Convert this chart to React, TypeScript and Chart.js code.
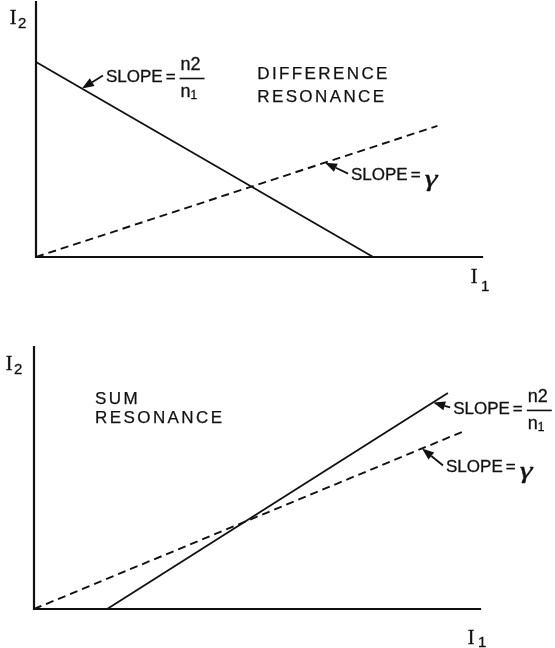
import { useEffect, useRef } from "react";
import { Chart, registerables } from "chart.js";

Chart.register(...registerables);

// Both axes run over 0..100 in arbitrary intensity units.
const AXIS_MIN = 0;
const AXIS_MAX = 100;

// Difference resonance: resonance line of slope -n2/n1 and the line I2 = γ·I1
const diffResonanceI1 = [0, 75.6];
const diffResonanceI2 = [76.5, 0];
const diffGammaI1 = [0, 90];
const diffGammaI2 = [0, 51.4];

// Sum resonance: resonance line of slope n2/n1 and the line I2 = γ·I1
const sumResonanceI1 = [16.4, 92.8];
const sumResonanceI2 = [0, 82.4];
const sumGammaI1 = [0, 96];
const sumGammaI2 = [0, 67.6];

const diffTitle = ["DIFFERENCE", "RESONANCE"];
const sumTitle = ["SUM", "RESONANCE"];

const INK = "#111";
const SANS = '"Liberation Sans", Arial, sans-serif';
const SERIF = '"Liberation Serif", "Times New Roman", serif';

type ArrowNote = { dataset: number; atX: number; dx: number; dy: number; label: "ratio" | "gamma" };
type AxisName = { dx: number; dy: number; subDx: number; subDy: number; sub: string };
type PanelNotes = {
  title: string[];
  titleX: number;
  titleY: number;
  titleGap: number;
  arrows: ArrowNote[];
  yName: AxisName;
  xName: AxisName;
};

// pen-lettered text: a fill plus a thin outline for a slightly heavier stroke
function ink(ctx: CanvasRenderingContext2D, s: string, x: number, y: number, weight = 0.3) {
  ctx.lineWidth = weight;
  ctx.fillText(s, x, y);
  ctx.strokeText(s, x, y);
}

function lineY(chart: any, dsIndex: number, x: number) {
  const pts = chart.data.datasets[dsIndex].data as { x: number; y: number }[];
  const [p, q] = pts;
  return p.y + ((q.y - p.y) * (x - p.x)) / (q.x - p.x);
}

function drawArrow(ctx: CanvasRenderingContext2D, fx: number, fy: number, tx: number, ty: number) {
  const ang = Math.atan2(ty - fy, tx - fx);
  const len = 12;
  const half = 4.5;
  const bx = tx - len * Math.cos(ang);
  const by = ty - len * Math.sin(ang);
  ctx.lineWidth = 1.8;
  ctx.beginPath();
  ctx.moveTo(fx, fy);
  ctx.lineTo(bx, by);
  ctx.stroke();
  ctx.beginPath();
  ctx.moveTo(tx, ty);
  ctx.lineTo(bx + half * Math.sin(ang), by - half * Math.cos(ang));
  ctx.lineTo(bx - half * Math.sin(ang), by + half * Math.cos(ang));
  ctx.closePath();
  ctx.fill();
}

function drawSlopeLabel(ctx: CanvasRenderingContext2D, x: number, y: number, kind: "ratio" | "gamma") {
  ctx.textBaseline = "middle";
  ctx.textAlign = "left";
  ctx.font = `17px ${SANS}`;
  ctx.letterSpacing = "0px";
  ink(ctx, "SLOPE", x, y);
  let cx = x + ctx.measureText("SLOPE").width + 3;
  ink(ctx, "=", cx, y);
  cx += ctx.measureText("=").width + 4;
  if (kind === "ratio") {
    const w = 25;
    ctx.lineWidth = 1.6;
    ctx.beginPath();
    ctx.moveTo(cx, y + 1);
    ctx.lineTo(cx + w, y + 1);
    ctx.stroke();
    ctx.font = `18px ${SANS}`;
    ink(ctx, "n2", cx + 1, y - 12);
    ink(ctx, "n", cx + 1, y + 15);
    const nw = ctx.measureText("n").width;
    ctx.font = `12px ${SANS}`;
    ink(ctx, "1", cx + 1 + nw, y + 18);
  } else {
    ctx.save();
    ctx.translate(cx, y + 4);
    ctx.scale(1.35, 1);
    ctx.font = `italic 24px ${SERIF}`;
    ink(ctx, "γ", 0, 0, 0.4);
    ctx.restore();
  }
}

function drawAxisName(ctx: CanvasRenderingContext2D, cx: number, cy: number, n: AxisName) {
  ctx.textBaseline = "middle";
  ctx.textAlign = "center";
  ctx.letterSpacing = "0px";
  ctx.font = `20px ${SERIF}`;
  ink(ctx, "I", cx, cy, 0.4);
  ctx.textAlign = "left";
  ctx.font = `15px ${SANS}`;
  ink(ctx, n.sub, cx + n.subDx, cy + n.subDy);
}

const notesPlugin = {
  id: "notes",
  afterDatasetsDraw(chart: any, _args: any, opts: PanelNotes) {
    const { ctx, chartArea: a, scales } = chart;
    const xs = scales.x;
    const ys = scales.y;
    ctx.save();
    ctx.fillStyle = INK;
    ctx.strokeStyle = INK;

    // axes
    ctx.lineWidth = 2.2;
    ctx.lineCap = "square";
    ctx.beginPath();
    ctx.moveTo(a.left, a.top);
    ctx.lineTo(a.left, a.bottom);
    ctx.lineTo(a.right, a.bottom);
    ctx.stroke();
    ctx.lineCap = "butt";

    // panel title
    ctx.font = `17px ${SANS}`;
    ctx.letterSpacing = "2.4px";
    ctx.textAlign = "left";
    ctx.textBaseline = "middle";
    opts.title.forEach((line, i) => {
      ink(ctx, line, xs.getPixelForValue(opts.titleX), ys.getPixelForValue(opts.titleY) + i * opts.titleGap, 0.25);
    });
    ctx.letterSpacing = "0px";

    // slope call-outs
    for (const ar of opts.arrows) {
      const tx = xs.getPixelForValue(ar.atX);
      const ty = ys.getPixelForValue(lineY(chart, ar.dataset, ar.atX));
      const fx = tx + ar.dx;
      const fy = ty + ar.dy;
      drawArrow(ctx, fx, fy, tx, ty);
      drawSlopeLabel(ctx, fx + 3, fy + 2, ar.label);
    }

    // axis names
    drawAxisName(ctx, a.left + opts.yName.dx, a.top + opts.yName.dy, opts.yName);
    drawAxisName(ctx, a.right + opts.xName.dx, a.bottom + opts.xName.dy, opts.xName);
    ctx.restore();
  },
};

function toPoints(xs: number[], ys: number[]) {
  return xs.map((x, i) => ({ x, y: ys[i] }));
}

type PanelProps = {
  width: number;
  height: number;
  top: number;
  padding: { left: number; right: number; top: number; bottom: number };
  resonance: { x: number[]; y: number[] };
  gamma: { x: number[]; y: number[] };
  notes: PanelNotes;
};

function Panel(p: PanelProps) {
  const ref = useRef<HTMLCanvasElement | null>(null);
  useEffect(() => {
    if (!ref.current) return;
    const chart = new Chart(ref.current, {
      type: "scatter",
      data: {
        datasets: [
          {
            data: toPoints(p.resonance.x, p.resonance.y),
            showLine: true,
            borderColor: INK,
            borderWidth: 1.8,
            pointRadius: 0,
            clip: false,
          } as any,
          {
            data: toPoints(p.gamma.x, p.gamma.y),
            showLine: true,
            borderColor: INK,
            borderWidth: 1.9,
            borderDash: [8, 5],
            pointRadius: 0,
            clip: false,
          } as any,
        ],
      },
      options: {
        responsive: false,
        animation: false,
        devicePixelRatio: 1,
        layout: { padding: p.padding },
        scales: {
          x: { type: "linear", min: AXIS_MIN, max: AXIS_MAX, display: false },
          y: { type: "linear", min: AXIS_MIN, max: AXIS_MAX, display: false },
        },
        plugins: {
          legend: { display: false },
          tooltip: { enabled: false },
          notes: p.notes,
        } as any,
      },
      plugins: [notesPlugin],
    });
    return () => chart.destroy();
  }, []);
  return (
    <canvas
      ref={ref}
      width={p.width}
      height={p.height}
      style={{ position: "absolute", left: 0, top: p.top, width: p.width, height: p.height }}
    />
  );
}

export default function App() {
  return (
    <div style={{ position: "absolute", left: 0, top: 0, width: 555, height: 648, background: "#fff" }}>
      <Panel
        width={555}
        height={310}
        top={0}
        padding={{ left: 36, right: 73, top: 2, bottom: 53 }}
        resonance={{ x: diffResonanceI1, y: diffResonanceI2 }}
        gamma={{ x: diffGammaI1, y: diffGammaI2 }}
        notes={{
          title: diffTitle,
          titleX: 49.6,
          titleY: 71.8,
          titleGap: 23,
          arrows: [
            { dataset: 0, atX: 10.3, dx: 21, dy: -13, label: "ratio" },
            { dataset: 1, atX: 64.8, dx: 23, dy: 11, label: "gamma" },
          ],
          yName: { dx: -23, dy: 17, subDx: 5, subDy: 5, sub: "2" },
          xName: { dx: -8, dy: 21, subDx: 7, subDy: 9, sub: "1" },
        }}
      />
      <Panel
        width={555}
        height={338}
        top={310}
        padding={{ left: 34, right: 75, top: 37, bottom: 39 }}
        resonance={{ x: sumResonanceI1, y: sumResonanceI2 }}
        gamma={{ x: sumGammaI1, y: sumGammaI2 }}
        notes={{
          title: sumTitle,
          titleX: 13.7,
          titleY: 80.2,
          titleGap: 19,
          arrows: [
            { dataset: 0, atX: 89.5, dx: 17, dy: 5, label: "ratio" },
            { dataset: 1, atX: 87, dx: 21, dy: 17, label: "gamma" },
          ],
          yName: { dx: -25, dy: 18, subDx: 5, subDy: 5, sub: "2" },
          xName: { dx: -9, dy: 30, subDx: 7, subDy: 4, sub: "1" },
        }}
      />
    </div>
  );
}
